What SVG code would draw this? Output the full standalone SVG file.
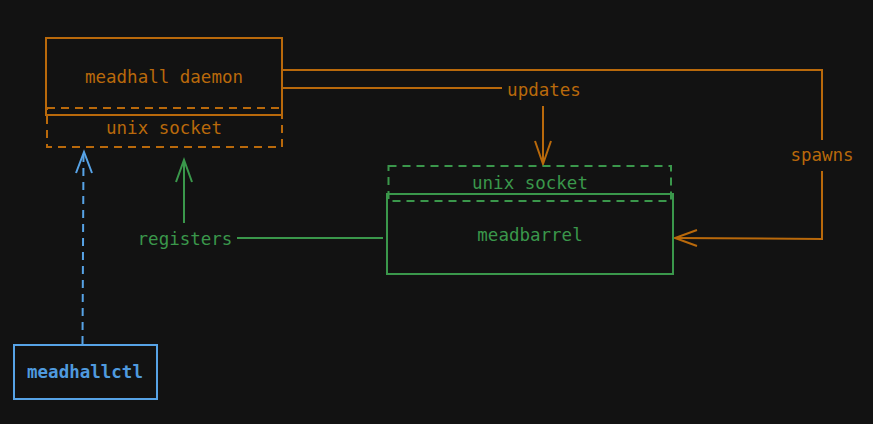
<svg xmlns="http://www.w3.org/2000/svg" width="873" height="424" viewBox="0 0 873 424">
<style>
  text { font-family: "DejaVu Sans Mono", "Liberation Mono", monospace; font-size: 17.5px; text-anchor: middle; }
  .o { stroke: #b9690b; fill: none; stroke-width: 2; }
  .g { stroke: #3a974b; fill: none; stroke-width: 2; }
  .b { stroke: #57a3e6; fill: none; stroke-width: 2; }
  .d { stroke-dasharray: 8 6; }
  .to { fill: #b9690b; }
  .tg { fill: #3a974b; }
  .tb { fill: #4f9ade; font-weight: bold; }
</style>
<rect width="873" height="424" fill="#121212"/>
<g id="connectors">
  <polyline class="o" points="282,70 822,70 822,140"/>
  <polyline class="o" points="822,171 822,239 675,238"/>
  <polyline class="o" points="697,230 675,238 697,246"/>
  <line class="o" x1="282" y1="88" x2="502" y2="88"/>
  <line class="o" x1="543" y1="106" x2="543" y2="163"/>
  <polyline class="o" points="535,141 543,164 551,141"/>
  <line class="g" x1="383" y1="238" x2="237" y2="238"/>
  <line class="g" x1="184" y1="223" x2="184" y2="161"/>
  <polyline class="g" points="176,182 184,160 192,182"/>
  <line class="b d" x1="82.5" y1="344" x2="83.5" y2="154"/>
  <polyline class="b" points="76,173 84,152 92,173"/>
  <text class="to" x="544" y="96">updates</text>
  <text class="to" x="822" y="161">spawns</text>
  <text class="tg" x="185" y="245">registers</text>
</g>
<g id="meadhall-daemon">
  <rect class="o" x="46" y="38" width="236" height="77"/>
  <text class="to" x="164" y="83">meadhall daemon</text>
</g>
<g id="daemon-socket">
  <rect class="o d" x="47" y="108" width="235" height="39"/>
  <text class="to" x="164" y="134">unix socket</text>
</g>
<g id="meadbarrel">
  <rect class="g" x="387" y="194" width="286" height="80"/>
  <text class="tg" x="530" y="241">meadbarrel</text>
</g>
<g id="barrel-socket">
  <rect class="g d" x="388.5" y="166" width="282.5" height="35"/>
  <text class="tg" x="530" y="189">unix socket</text>
</g>
<g id="meadhallctl">
  <rect class="b" x="14" y="345" width="143" height="54"/>
  <text class="tb" x="85" y="378">meadhallctl</text>
</g>
</svg>
